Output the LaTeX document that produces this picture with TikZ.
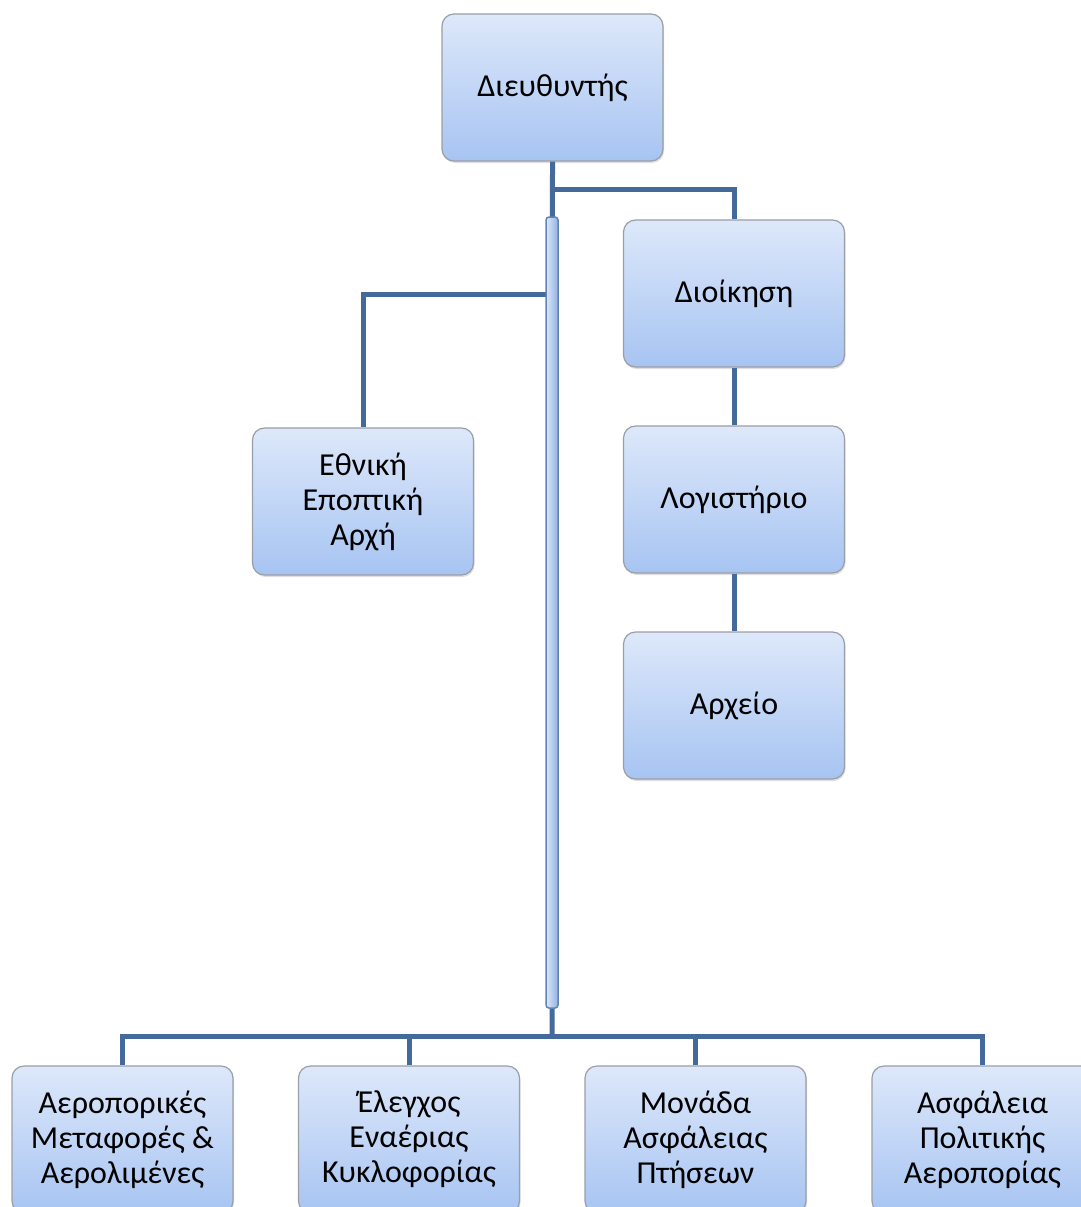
\documentclass[tikz,border=0pt]{standalone}
\usepackage{fontspec}
\setmainfont{Carlito}
\usepackage{xcolor}
\usetikzlibrary{positioning,shadows}
\definecolor{linkblue}{HTML}{44699B}
\definecolor{boxtop}{HTML}{DDE8FA}
\definecolor{boxbot}{HTML}{A7C4F2}
\definecolor{boxline}{HTML}{9A9EA6}

\begin{document}
\begin{tikzpicture}[x=1pt,y=-1pt]
      \useasboundingbox (0,0) rectangle (1081,1207);
      \tikzset{B/.style = {shape=rectangle, rounded corners=12pt, draw=boxline, line width=1.2pt,
          top color=boxtop, bottom color=boxbot, minimum width=221pt, minimum height=147pt,
          align=center, text=black, font=\fontsize{32}{35}\selectfont,
          drop shadow={opacity=0.25, shadow xshift=1pt, shadow yshift=-2pt}}}
      \tikzset{E/.style = {draw=linkblue, line width=5pt}}
      \tikzset{bar/.style = {shape=rectangle, rounded corners=3pt, draw=linkblue!70!boxbot, line width=1.5pt,
          left color=boxtop, right color=boxbot!80!linkblue, minimum width=12pt, minimum height=791pt, inner sep=0pt}}
      \node[B](dir) at (552.5,87.5) {Διευθυντής};
      \node[B](dioik) at (734,293.5) {Διοίκηση};
      \node[B](logist) at (734,499.5) {Λογιστήριο};
      \node[B](arch) at (734,705.5) {Αρχείο};
      \node[B](ethn) at (363,501.5) {Εθνική\\Εποπτική\\Αρχή};
      \node[B](aerom) at (122.5,1139.5) {Αεροπορικές\\Μεταφορές \&\\Αερολιμένες};
      \node[B](elegx) at (409,1139.5) {Έλεγχος\\Εναέριας\\Κυκλοφορίας};
      \node[B](monad) at (695.5,1139.5) {Μονάδα\\Ασφάλειας\\Πτήσεων};
      \node[B](asfal) at (982.5,1139.5) {Ασφάλεια\\Πολιτικής\\Αεροπορίας};
      \coordinate (jtop) at (552,189);
      \coordinate (jleft) at (546,294);
      \coordinate (jbot) at (552,1036);
      \draw[E](dir.south) to (jbot);
      \draw[E](jtop) -| (dioik.north);
      \draw[E](jleft) -| (ethn.north);
      \draw[E](dioik) to (logist);
      \draw[E](logist) to (arch);
      \draw[E](aerom.north) |- (jbot);
      \draw[E](jbot) -| (asfal.north);
      \draw[E](elegx.north) to (elegx.north |- jbot);
      \draw[E](monad.north) to (monad.north |- jbot);
      \node[bar](spine) at (552,612.5) {};
    \end{tikzpicture}
\end{document}
